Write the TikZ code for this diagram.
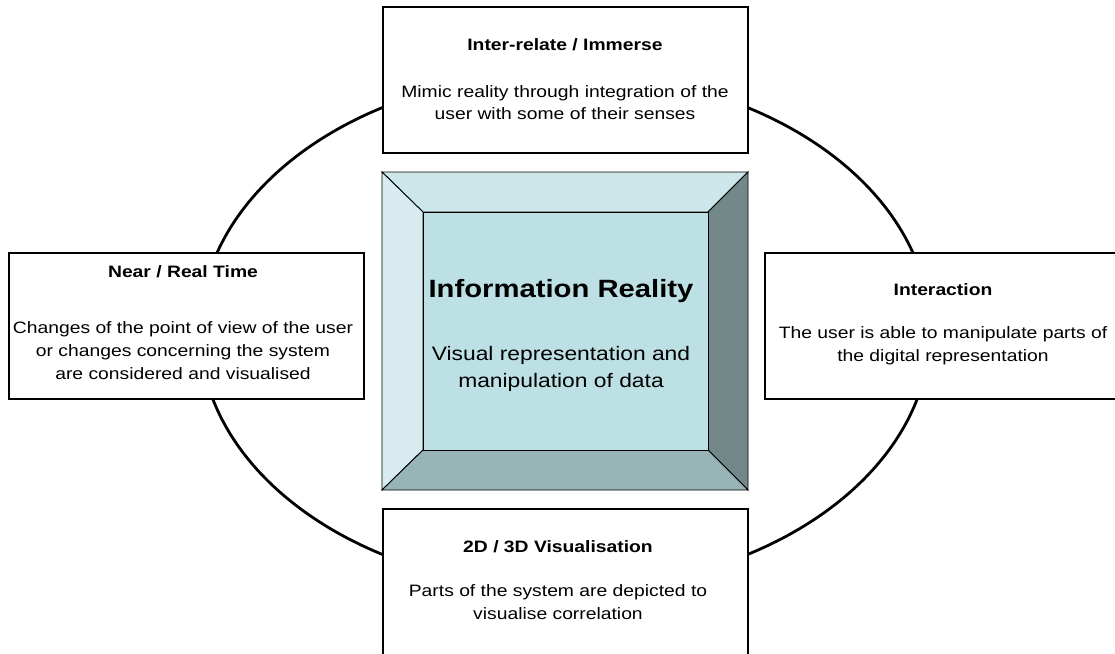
\documentclass[tikz,border=0pt]{standalone}
\usepackage{fontspec}
\newfontfamily\lab{Liberation Sans}[FakeStretch=1.17]
\definecolor{faceC}{HTML}{BCE0E3}
\definecolor{topC}{HTML}{CBE7EA}
\definecolor{leftC}{HTML}{D8ECEF}
\definecolor{rightC}{HTML}{728889}
\definecolor{bottomC}{HTML}{97B4B6}
\begin{document}
\begin{tikzpicture}[x=1pt,y=-1pt,
  card/.style={draw=black,line width=1.1pt,fill=white},
  bevel/.style={draw=black,line width=0.9pt,line join=miter},
  ttl/.style={font=\lab\fontsize{16.5}{19}\selectfont\bfseries,anchor=base,inner sep=0pt},
  txt/.style={font=\lab\fontsize{16.5}{19}\selectfont,anchor=base,inner sep=0pt},
  bigttl/.style={font=\lab\fontsize{25}{29}\selectfont\bfseries,anchor=base,inner sep=0pt},
  bigtxt/.style={font=\lab\fontsize{19.5}{23}\selectfont,anchor=base,inner sep=0pt}]
\useasboundingbox (0,0) rectangle (1115,653);

% the cycle behind the cards
\draw[line width=2.8pt] (565,331) ellipse [x radius=365, y radius=258];

% central bevelled panel
\coordinate (oNW) at (382,172); \coordinate (oNE) at (748,172);
\coordinate (oSW) at (382,490); \coordinate (oSE) at (748,490);
\coordinate (iNW) at (423,212); \coordinate (iNE) at (708,212);
\coordinate (iSW) at (423,450); \coordinate (iSE) at (708,450);
\filldraw[bevel,fill=topC] (oNW) -- (oNE) -- (iNE) -- (iNW) -- cycle;
\filldraw[bevel,fill=leftC] (oNW) -- (iNW) -- (iSW) -- (oSW) -- cycle;
\filldraw[bevel,fill=rightC] (oNE) -- (oSE) -- (iSE) -- (iNE) -- cycle;
\filldraw[bevel,fill=bottomC] (oSW) -- (iSW) -- (iSE) -- (oSE) -- cycle;
\filldraw[bevel,fill=faceC] (iNW) rectangle (iSE);
\node[bigttl] (cT) at (561,297) {Information Reality};
\node[bigtxt] (cB1) at (561,360) {Visual representation and};
\node[bigtxt] (cB2) at (561,387) {manipulation of data};

% four surrounding cards
\filldraw[card] (383,7) rectangle (748,153);
\node[ttl] (tT) at (565,50) {Inter-relate / Immerse};
\node[txt] (tB1) at (565,97) {Mimic reality through integration of the};
\node[txt] (tB2) at (565,119) {user with some of their senses};

\filldraw[card] (9,253) rectangle (364,399);
\node[ttl] (lT) at (183,277) {Near / Real Time};
\node[txt] (lB1) at (183,333) {Changes of the point of view of the user};
\node[txt] (lB2) at (183,356) {or changes concerning the system};
\node[txt] (lB3) at (183,379) {are considered and visualised};

\filldraw[card] (765,253) rectangle (1125,399);
\node[ttl] (rT) at (943,295) {Interaction};
\node[txt] (rB1) at (943,338) {The user is able to manipulate parts of};
\node[txt] (rB2) at (943,361) {the digital representation};

\filldraw[card] (383,509) rectangle (748,665);
\node[ttl] (bT) at (558,552) {2D / 3D Visualisation};
\node[txt] (bB1) at (558,596) {Parts of the system are depicted to};
\node[txt] (bB2) at (558,619) {visualise correlation};
\end{tikzpicture}
\end{document}
